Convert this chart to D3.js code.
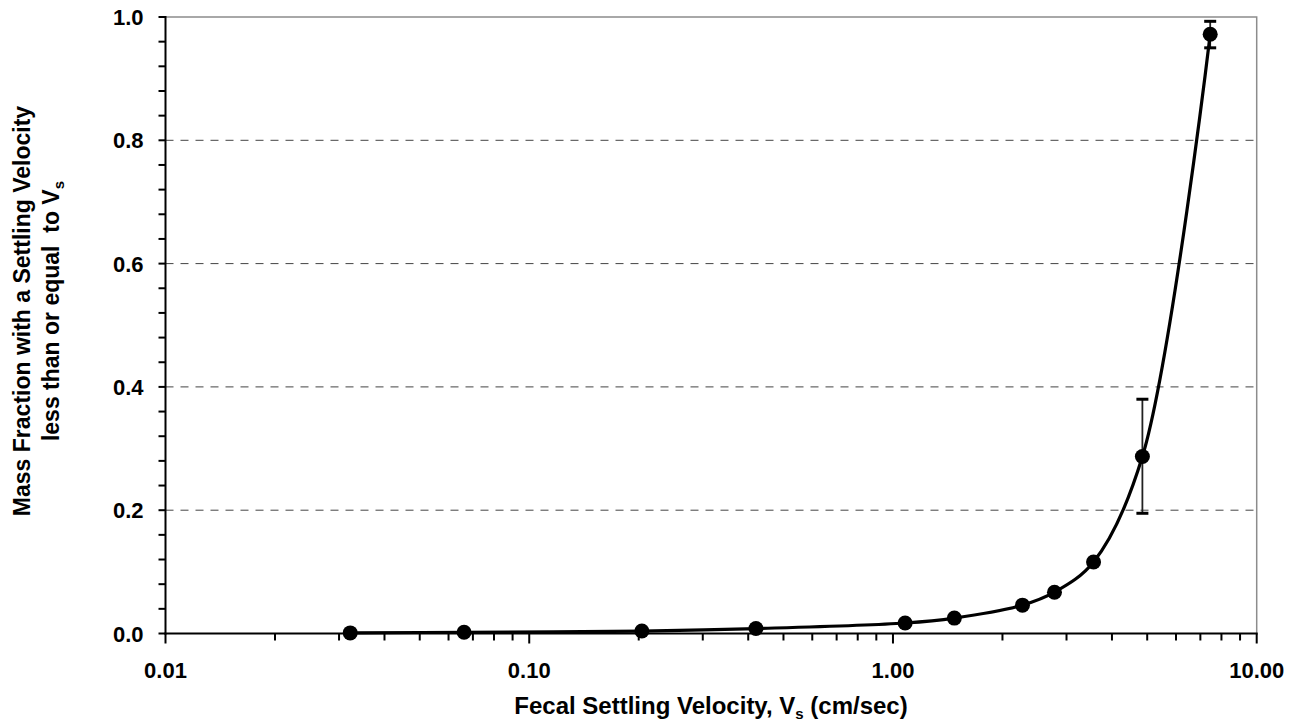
<!DOCTYPE html>
<html>
<head>
<meta charset="UTF-8">
<style>
body { margin: 0; background: #fff; }
svg text { font-family: "Liberation Sans", Arial, sans-serif; font-weight: bold; fill: #000; }
.grid line { stroke: #444; stroke-width: 1; stroke-dasharray: 8,7; }
.curve { fill: none; stroke: #000; stroke-width: 3.2px; }
</style>
</head>
<body>
<svg id="chart" width="1301" height="727"></svg>
<script src="https://d3js.org/d3.v7.min.js"></script>
<script>

// data
var velocity = [0.0322, 0.0662, 0.204, 0.42, 1.08, 1.475, 2.27, 2.78, 3.56, 4.85, 7.45];
var fraction = [0.001, 0.002, 0.004, 0.008, 0.017, 0.025, 0.046, 0.067, 0.116, 0.287, 0.972];
var errLow   = [null, null, null, null, null, null, null, null, null, 0.195, 0.950];
var errHigh  = [null, null, null, null, null, null, null, null, null, 0.380, 0.993];
var xTickLabels = ["0.01", "0.10", "1.00", "10.00"];
var yTicks = [0, 0.2, 0.4, 0.6, 0.8, 1.0];

var margin = {top: 17, left: 165.5, right: 1256.7, bottom: 633.5};

var svg = d3.select("#chart");

var x = d3.scaleLog().domain([0.01, 10]).range([margin.left, margin.right]);
var y = d3.scaleLinear().domain([0, 1]).range([margin.bottom, margin.top]);

// dashed gridlines
svg.append("g").attr("class", "grid")
  .selectAll("line").data(yTicks.slice(1, 5)).enter().append("line")
    .attr("x1", margin.left).attr("x2", margin.right)
    .attr("y1", function(d) { return y(d); }).attr("y2", function(d) { return y(d); });

// top + right frame (grey)
svg.append("path")
  .attr("d", "M" + margin.left + "," + margin.top + "H" + margin.right + "V" + margin.bottom)
  .attr("fill", "none").attr("stroke", "#8c8c8c").attr("stroke-width", 1.5);

// y axis, minor ticks every 0.04
var yMinor = d3.range(0, 1.0001, 0.04);
svg.append("g").selectAll("line").data(yMinor).enter().append("line")
  .attr("x1", margin.left - 7).attr("x2", margin.left)
  .attr("y1", function(d) { return y(d); }).attr("y2", function(d) { return y(d); })
  .attr("stroke", "#000").attr("stroke-width", 2);

svg.append("line")
  .attr("x1", margin.left).attr("x2", margin.left)
  .attr("y1", margin.top - 1).attr("y2", margin.bottom + 1)
  .attr("stroke", "#000").attr("stroke-width", 2);

svg.append("g").selectAll("text").data(yTicks).enter().append("text")
  .attr("x", margin.left - 22)
  .attr("y", function(d) { return y(d) + 8; })
  .attr("text-anchor", "end")
  .style("font-size", "22px")
  .text(function(d) { return d.toFixed(1); });

// x axis, log ticks
var xAll = x.ticks();
svg.append("g").selectAll("line").data(xAll).enter().append("line")
  .attr("x1", function(d) { return x(d); }).attr("x2", function(d) { return x(d); })
  .attr("y1", margin.bottom)
  .attr("y2", function(d) { return Math.abs(Math.log10(d) - Math.round(Math.log10(d))) < 1e-6 ? margin.bottom + 10 : margin.bottom + 7; })
  .attr("stroke", "#000").attr("stroke-width", 2);

svg.append("line")
  .attr("x1", margin.left - 1).attr("x2", margin.right + 1)
  .attr("y1", margin.bottom).attr("y2", margin.bottom)
  .attr("stroke", "#000").attr("stroke-width", 2);

var xMajor = [0.01, 0.1, 1, 10];
svg.append("g").selectAll("text").data(xMajor).enter().append("text")
  .attr("x", function(d) { return x(d); })
  .attr("y", margin.bottom + 44)
  .attr("text-anchor", "middle")
  .style("font-size", "22px")
  .text(function(d, i) { return xTickLabels[i]; });

// axis titles
var xt = svg.append("text")
  .attr("x", 711).attr("y", 714)
  .attr("text-anchor", "middle")
  .style("font-size", "24px");
xt.append("tspan").text("Fecal Settling Velocity, V");
xt.append("tspan").attr("dy", 5).style("font-size", "15px").text("s");
xt.append("tspan").attr("dy", -5).text(" (cm/sec)");

var yt = svg.append("g").attr("transform", "translate(30,311) rotate(-90)");
yt.append("text").attr("text-anchor", "middle").style("font-size", "23px")
  .text("Mass Fraction with a Settling Velocity");
var yt2 = yt.append("text").attr("y", 29).attr("text-anchor", "middle").style("font-size", "23px");
yt2.append("tspan").text("less than or equal  to V").style("white-space", "pre");
yt2.append("tspan").attr("dy", 5).style("font-size", "15px").text("s");

// error bars
var pts = velocity.map(function(v, i) {
  return {v: v, f: fraction[i], lo: errLow[i], hi: errHigh[i]};
});
var eb = svg.append("g").selectAll("g").data(pts.filter(function(d) { return d.lo != null; }))
  .enter().append("g");
eb.append("line")
  .attr("x1", function(d) { return x(d.v); }).attr("x2", function(d) { return x(d.v); })
  .attr("y1", function(d) { return y(d.lo); }).attr("y2", function(d) { return y(d.hi); })
  .attr("stroke", "#222").attr("stroke-width", 1.8);
["lo", "hi"].forEach(function(k) {
  eb.append("line")
    .attr("x1", function(d) { return x(d.v) - 6; }).attr("x2", function(d) { return x(d.v) + 6; })
    .attr("y1", function(d) { return y(d[k]); }).attr("y2", function(d) { return y(d[k]); })
    .attr("stroke", "#000").attr("stroke-width", 3);
});

// smoothed curve
var line = d3.line()
  .x(function(d) { return x(d.v); })
  .y(function(d) { return y(d.f); })
  .curve(d3.curveCatmullRom.alpha(0.5));
svg.append("path").datum(pts).attr("class", "curve").attr("d", line);

// markers
svg.append("g").selectAll("circle").data(pts).enter().append("circle")
  .attr("cx", function(d) { return x(d.v); })
  .attr("cy", function(d) { return y(d.f); })
  .attr("r", 7.5)
  .attr("fill", "#000");

</script>
</body>
</html>
